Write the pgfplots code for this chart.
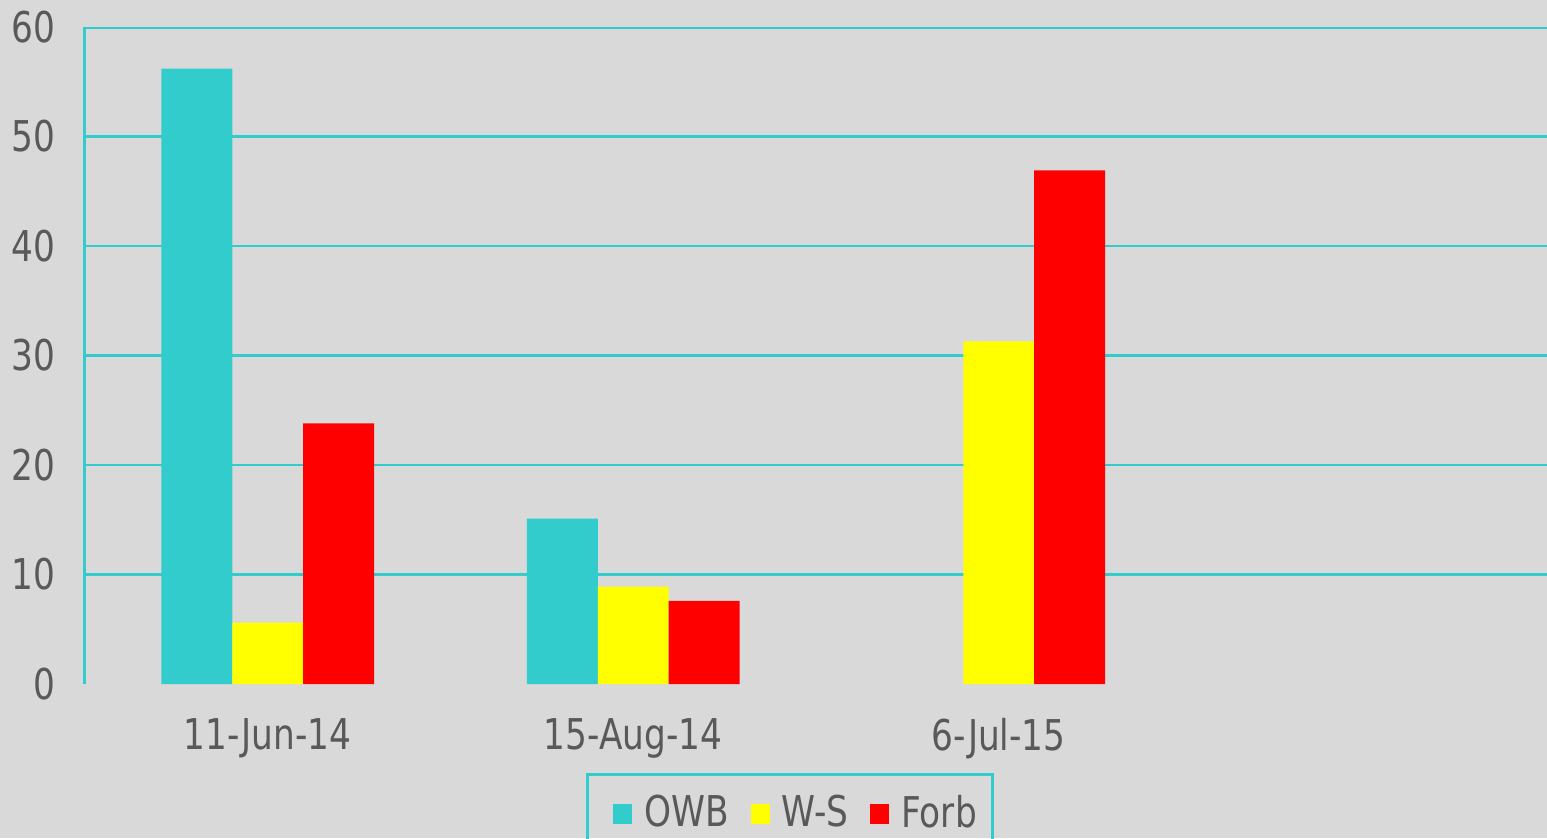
\documentclass[border=0pt]{standalone}
\usepackage{fontspec}
\setmainfont{DejaVu Sans}[FakeStretch=0.81]
\usepackage{pgfplots}
\pgfplotsset{compat=1.18}
\definecolor{owb}{HTML}{33CCCC}
\definecolor{ws}{HTML}{FFFF00}
\definecolor{forb}{HTML}{FF0000}
\definecolor{bg}{HTML}{D9D9D9}
\definecolor{lab}{HTML}{595959}
\begin{document}
\begin{tikzpicture}
\fill[bg] (-21.25pt,-38.5pt) rectangle (365.5pt,171pt);
\useasboundingbox (-21.25pt,-38.5pt) rectangle (365.5pt,171pt);
\begin{axis}[
  at={(0,0)}, anchor=south west,
  scale only axis, width=365.5pt, height=164.25pt,
  xmin=-0.5, xmax=3.5, ymin=0, ymax=60,
  ybar, bar width=0.194,
  axis x line*=bottom,
  x axis line style={draw=none},
  axis y line=left,
  y axis line style={draw=owb, line width=0.75pt, -},
  ytick={0,10,...,60},
  major tick length=0pt,
  extra y ticks={10,20,...,50},
  extra y tick labels={},
  extra y tick style={grid=major, major grid style={draw=owb, line width=0.7pt}},
  xtick={0,1,2}, xticklabels={11-Jun-14,15-Aug-14,6-Jul-15},
  /pgf/number format/assume math mode=true,
  ticklabel style={font=\fontsize{10.6}{12}\selectfont, text=lab},
  yticklabel style={xshift=-4pt},
  xticklabel style={yshift=-5pt},
  legend style={name=leg, at={(0.3434,-0.137)}, anchor=north west, draw=none, fill=none,
    font=\fontsize{10.6}{12}\selectfont, text=lab, legend columns=3,
    inner xsep=6.3pt, inner ysep=4pt,
    nodes={inner xsep=1.5pt, inner ysep=1pt},
    /tikz/every odd column/.append style={column sep=1.5pt},
    /tikz/every even column/.append style={column sep=4pt}},
]
\addplot[draw=none, fill=owb, bar shift=-0.194,
  legend image code/.code={\fill[owb] (0pt,-2.4pt) rectangle (4.75pt,2.4pt);}]
  coordinates {(0,56.2) (1,15.1)};
\addlegendentry{OWB}
\addplot[draw=none, fill=ws, bar shift=0,
  legend image code/.code={\fill[ws] (0pt,-2.4pt) rectangle (4.75pt,2.4pt);}]
  coordinates {(0,5.6) (1,8.9) (2,31.3)};
\addlegendentry{W-S}
\addplot[draw=none, fill=forb, bar shift=0.194,
  legend image code/.code={\fill[forb] (0pt,-2.4pt) rectangle (4.75pt,2.4pt);}]
  coordinates {(0,23.8) (1,7.6) (2,46.9)};
\addlegendentry{Forb}
\draw[owb, line width=0.9pt] (rel axis cs:0,1) -- (rel axis cs:1,1);
\end{axis}
\draw[owb, line width=0.75pt] (leg.north west) rectangle ([xshift=-4pt]leg.south east);
\end{tikzpicture}
\end{document}
